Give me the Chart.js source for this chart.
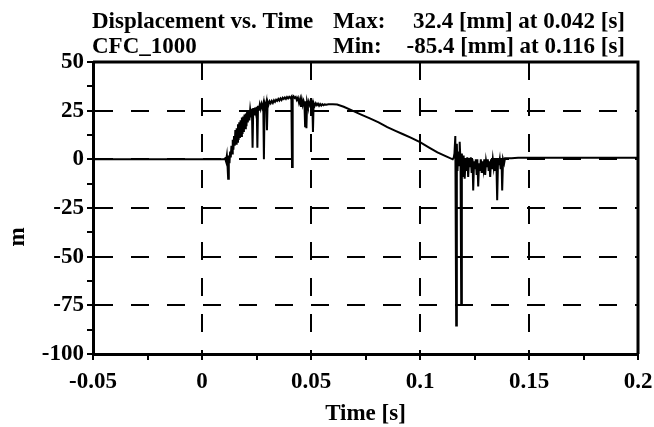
<!DOCTYPE html>
<html>
<head>
<meta charset="utf-8">
<title>Displacement vs. Time</title>
<script src="https://cdn.jsdelivr.net/npm/chart.js@4.4.1/dist/chart.umd.min.js"></script>
<style>
    html, body { margin: 0; padding: 0; background: #fff; }
    #chart { display: block; }
</style>
</head>
<body>
<canvas id="chart" width="654" height="427"></canvas>
<script>
// --- Data (time in s, displacement in mm) ---
const timeTicks = [-0.05, 0, 0.05, 0.1, 0.15, 0.2];
const dispTicks = [50, 25, 0, -25, -50, -75, -100];

const time = [
    -0.05, 0.0100, 0.0106, 0.0110, 0.0114, 0.0117, 0.0120, 0.0123, 0.0126, 0.0129,
    0.0132, 0.0135, 0.0138, 0.0141, 0.0144, 0.0147, 0.0150, 0.0153, 0.0156, 0.0159,
    0.0162, 0.0165, 0.0168, 0.0171, 0.0174, 0.0177, 0.0180, 0.0183, 0.0186, 0.0189,
    0.0192, 0.0195, 0.0198, 0.0201, 0.0204, 0.0207, 0.0210, 0.0213, 0.0217, 0.0221,
    0.0225, 0.0229, 0.0232, 0.0235, 0.0239, 0.0243, 0.0247, 0.0251, 0.0254, 0.0257,
    0.0261, 0.0265, 0.0269, 0.0273, 0.0277, 0.0281, 0.0284, 0.0287, 0.0291, 0.0295,
    0.0298, 0.0301, 0.0305, 0.0310, 0.0315, 0.0320, 0.0325, 0.0330, 0.0335, 0.0340,
    0.0345, 0.0350, 0.0355, 0.0360, 0.0365, 0.0370, 0.0375, 0.0380, 0.0385, 0.0390,
    0.0395, 0.0400, 0.0405, 0.0410, 0.0413, 0.0416, 0.0420, 0.0425, 0.0430, 0.0435,
    0.0440, 0.0445, 0.0450, 0.0454, 0.0458, 0.0462, 0.0466, 0.0470, 0.0473, 0.0476,
    0.0479, 0.0482, 0.0486, 0.0490, 0.0494, 0.0498, 0.0502, 0.0506, 0.0509, 0.0512,
    0.0517, 0.0522, 0.0527, 0.0532, 0.0537, 0.0542, 0.0547, 0.0552, 0.0557, 0.0562,
    0.0570, 0.0580, 0.0600, 0.0620, 0.0650, 0.0690, 0.0730, 0.0770, 0.0810, 0.0850,
    0.0890, 0.0920, 0.0960, 0.1000, 0.1040, 0.1080, 0.1120, 0.1150, 0.1155, 0.1158,
    0.1162, 0.1166, 0.1169, 0.1172, 0.1175, 0.1179, 0.1182, 0.1186, 0.1189, 0.1192,
    0.1196, 0.1200, 0.1205, 0.1209, 0.1213, 0.1217, 0.1221, 0.1225, 0.1229, 0.1233,
    0.1237, 0.1241, 0.1244, 0.1248, 0.1252, 0.1256, 0.1260, 0.1263, 0.1267, 0.1271,
    0.1275, 0.1279, 0.1283, 0.1287, 0.1291, 0.1295, 0.1299, 0.1303, 0.1307, 0.1311,
    0.1315, 0.1318, 0.1322, 0.1326, 0.1330, 0.1334, 0.1338, 0.1342, 0.1346, 0.1350,
    0.1354, 0.1358, 0.1362, 0.1366, 0.1370, 0.1374, 0.1377, 0.1381, 0.1386, 0.1390,
    0.1420, 0.1450, 0.1700, 0.2000
];

const displacement = [
    0, 0, 0.5, -1, 2, -3, -10, 2, -2, 4,
    1, 7, 3, 10, 5, 12, 7, 15, 8, 16,
    9, 18, 10, 19, 11, 20, 12, 21.5, 13, 22,
    14, 23, 16, 23.5, 17, 24.5, 19, 25, 20, 25.5,
    22, 26, 6, 26.3, 23, 26.6, 24, 27, 6, 27.5,
    25, 28, 26, 28.3, 26.5, 28.5, 0, 28.8, 27, 29.2,
    15, 29.5, 28, 29.8, 28.8, 30, 29, 30.3, 29.5, 30.6,
    30, 31, 30.2, 31.3, 30.5, 31.6, 31, 31.8, 31, 32,
    31.3, 32.1, 31.5, 32.2, -4, 31.8, 32.4, 31.5, 32, 30.5,
    31.6, 29, 31, 27, 30.5, 28, 30, 28.5, 17, 29.8,
    16, 29.5, 27.5, 29.6, 28, 29.3, 27.8, 29, 14, 29,
    27.5, 28.8, 27.8, 28.6, 27.5, 28.4, 27.6, 28.3, 27.8, 28.2,
    28, 28.3, 28.3, 28.2, 27, 25, 23, 21, 19, 16.5,
    14.5, 13, 11, 8.8, 6.2, 3.6, 1.5, 0, 1, 3,
    12, -85.4, 8, -6, 4, -3, 9, -2, -74, 3,
    -9, 2, -10, 0, -6, 1, -9, 0, -4, 1,
    -7, 0, -16, -1, -5, 0, -8, 0, -14, -2,
    -6, 0, -7, -1, -5, 0, -8, -1, -4, 0,
    -6, -1, -9, 0, -5, 0, -4, 0, -6, 0,
    -21, 0, -3, 0, -5, 0, -16, 0, -2, 0.5,
    0.5, 0.8, 0.8, 0.8
];

const points = time.map((t, i) => ({ x: t, y: displacement[i] }));

const FONT = 'Liberation Serif';
const isMajorX = (v) => Math.abs(v / 0.05 - Math.round(v / 0.05)) < 1e-6;
const isMajorY = (v) => Math.abs(v % 25) < 1e-9;

// --- Header text, axis titles and the top/right frame ---
const decorPlugin = {
    id: 'decor',
    afterDraw(chart) {
        const { ctx, chartArea: a } = chart;
        ctx.save();

        // top and right edges of the frame
        ctx.strokeStyle = '#000';
        ctx.lineWidth = 3;
        ctx.beginPath();
        ctx.moveTo(a.left, a.top);
        ctx.lineTo(a.right, a.top);
        ctx.lineTo(a.right, a.bottom);
        ctx.stroke();

        ctx.fillStyle = '#000';
        ctx.font = `bold 23px "${FONT}"`;
        ctx.textBaseline = 'alphabetic';

        ctx.textAlign = 'left';
        ctx.fillText('Displacement vs. Time', 92, 28);
        ctx.fillText('CFC_1000', 92, 53);
        ctx.fillText('Max:', 333, 28);
        ctx.fillText('Min:', 333, 53);

        ctx.textAlign = 'right';
        ctx.fillText('32.4 [mm] at 0.042 [s]', 625, 28);
        ctx.fillText('-85.4 [mm] at 0.116 [s]', 625, 53);

        // axis titles
        ctx.textAlign = 'center';
        ctx.textBaseline = 'middle';
        ctx.fillText('Time [s]', (a.left + a.right) / 2, 414);

        ctx.translate(18, 237);
        ctx.rotate(-Math.PI / 2);
        ctx.fillText('m', 0, 0);

        ctx.restore();
    }
};

new Chart(document.getElementById('chart'), {
    type: 'scatter',
    data: {
        datasets: [{
            data: points,
            showLine: true,
            borderColor: '#000',
            borderWidth: 2,
            pointRadius: 0,
            tension: 0
        }]
    },
    options: {
        responsive: false,
        animation: false,
        layout: { padding: { top: 62, right: 16, left: 0, bottom: 0 } },
        plugins: {
            legend: { display: false },
            tooltip: { enabled: false }
        },
        scales: {
            x: {
                type: 'linear',
                min: timeTicks[0],
                max: timeTicks[timeTicks.length - 1],
                afterFit: (s) => { s.height = 73; s.paddingLeft = 0; s.paddingRight = 0; },
                border: { display: true, color: '#000', width: 3, dash: [18, 18] },
                grid: {
                    color: (c) => {
                        const v = c.tick ? c.tick.value : 0;
                        const edge = v <= timeTicks[0] + 1e-9 || v >= timeTicks[timeTicks.length - 1] - 1e-9;
                        return isMajorX(v) && !edge ? '#000' : 'rgba(0,0,0,0)';
                    },
                    lineWidth: 2,
                    tickColor: '#000',
                    tickLength: 6
                },
                ticks: {
                    stepSize: 0.025,
                    autoSkip: false,
                    maxRotation: 0,
                    padding: 8,
                    color: '#000',
                    font: { family: FONT, size: 23, weight: 'bold' },
                    callback: (v) => isMajorX(v) ? String(+(+v).toFixed(2)) : ''
                }
            },
            y: {
                min: dispTicks[dispTicks.length - 1],
                max: dispTicks[0],
                afterFit: (s) => { s.width = 93; s.paddingTop = 0; s.paddingBottom = 0; },
                border: { display: true, color: '#000', width: 3, dash: [18, 18] },
                grid: {
                    color: (c) => {
                        const v = c.tick ? c.tick.value : 0;
                        const edge = v <= dispTicks[dispTicks.length - 1] || v >= dispTicks[0];
                        return isMajorY(v) && !edge ? '#000' : 'rgba(0,0,0,0)';
                    },
                    lineWidth: 2,
                    tickColor: '#000',
                    tickLength: 6
                },
                ticks: {
                    stepSize: 12.5,
                    autoSkip: false,
                    padding: 3,
                    color: '#000',
                    font: { family: FONT, size: 23, weight: 'bold' },
                    callback: (v) => isMajorY(v) ? String(v) : ''
                }
            }
        }
    },
    plugins: [decorPlugin]
});
</script>
</body>
</html>
